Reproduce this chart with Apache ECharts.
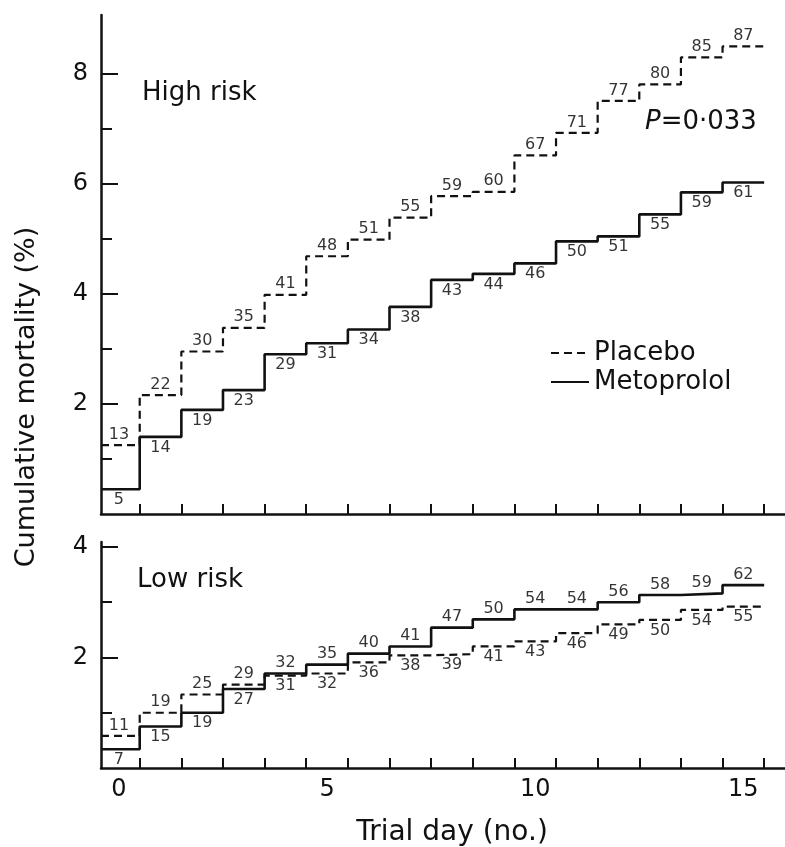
<!DOCTYPE html>
<html>
<head>
<meta charset="utf-8">
<script src="https://cdn.jsdelivr.net/npm/echarts@6/dist/echarts.min.js"></script>
<style>html,body{margin:0;padding:0;background:#fff;}#c{width:785px;height:847px;}</style>
</head>
<body>
<div id="c"></div>
<script>
// ---- data ----
const days = [0,1,2,3,4,5,6,7,8,9,10,11,12,13,14,15];
const highPlaceboPct = [1.25,2.16,2.95,3.38,3.98,4.68,4.98,5.38,5.77,5.85,6.51,6.92,7.50,7.80,8.29,8.49];
const highPlaceboN   = [13,22,30,35,41,48,51,55,59,60,67,71,77,80,85,87];
const highMetoPct    = [0.45,1.40,1.89,2.25,2.90,3.10,3.35,3.76,4.25,4.36,4.55,4.95,5.04,5.44,5.84,6.02];
const highMetoN      = [5,14,19,23,29,31,34,38,43,44,46,50,51,55,59,61];
const lowPlaceboPct  = [0.58,1.00,1.33,1.51,1.67,1.71,1.91,2.04,2.06,2.20,2.29,2.44,2.60,2.68,2.86,2.92];
const lowPlaceboN    = [11,19,25,29,31,32,36,38,39,41,43,46,49,50,54,55];
const lowMetoPct     = [0.34,0.75,1.00,1.43,1.71,1.87,2.07,2.20,2.54,2.69,2.87,2.87,3.00,3.13,3.16,3.31];
const lowMetoN       = [7,15,19,27,32,35,40,41,47,50,54,54,56,58,59,62];
const xTickLabels = [0,5,10,15];
const xTickMarks = [0.5,1.5,2.5,3.5,4.5,5.5,6.5,7.5,8.5,9.5,10.5,11.5,12.5,13.5,14.5,15.5];
const highYLabels = [2,4,6,8];
const highYMinor = [1,3,5,7];
const lowYLabels = [2,4];
const lowYMinor = [1,3];

const X_MIN = -0.43, X_MAX = 16;
const FONT = 'DejaVu Sans';
const INK = '#111';

function steps(p) {
  const pts = [[X_MIN, p[0]]];
  for (let i = 1; i < p.length; i++) pts.push([days[i] - 0.5, p[i]]);
  pts.push([days[p.length - 1] + 0.5, p[p.length - 1]]);
  return pts;
}
function labelData(p, n, other) {
  return days.map((d, i) => ({
    value: [d, p[i], n[i]],
    label: { position: p[i] >= other[i] ? 'top' : 'bottom' }
  }));
}

function xAxis(grid, showLabels) {
  return {
    type: 'value', gridIndex: grid, min: X_MIN, max: X_MAX,
    axisLine: { show: true, onZero: false, lineStyle: { color: INK, width: 2.5 } },
    axisTick: { show: true, inside: true, length: 10, customValues: xTickMarks, lineStyle: { color: INK, width: 2 } },
    axisLabel: { show: showLabels, customValues: xTickLabels, fontSize: 24, color: INK, fontFamily: FONT, margin: 10 },
    splitLine: { show: false }
  };
}
function yAxis(grid, max, labels) {
  return {
    type: 'value', gridIndex: grid, min: 0, max: max, position: 'left',
    axisLine: { show: true, onZero: false, lineStyle: { color: INK, width: 2.5 } },
    axisTick: { show: true, inside: true, length: 17, customValues: labels, lineStyle: { color: INK, width: 2 } },
    axisLabel: { show: true, customValues: labels, fontSize: 24, color: INK, fontFamily: FONT, margin: 13 },
    splitLine: { show: false }
  };
}
function yAux(grid, max, ticks) {
  return {
    type: 'value', gridIndex: grid, min: 0, max: max, position: 'left', offset: 0,
    axisLine: { show: false, onZero: false },
    axisTick: { show: true, inside: true, length: 11, customValues: ticks, lineStyle: { color: INK, width: 2 } },
    axisLabel: { show: false },
    splitLine: { show: false }
  };
}
function stepLine(name, xi, yi, pts, dashed) {
  return {
    type: 'line', name: name, xAxisIndex: xi, yAxisIndex: yi, data: pts, step: 'end',
    symbol: 'none', silent: true,
    lineStyle: { color: INK, width: dashed ? 2.2 : 2.6, type: dashed ? [8, 5] : 'solid' },
    itemStyle: { color: 'rgba(0,0,0,0)', borderWidth: 0, opacity: 0 }
  };
}
function labels(name, xi, yi, data) {
  return {
    type: 'scatter', name: name, xAxisIndex: xi, yAxisIndex: yi, data: data,
    symbolSize: 1, itemStyle: { color: 'rgba(0,0,0,0)' }, silent: true,
    label: { show: true, distance: 2, fontSize: 16, color: '#000', fontFamily: FONT,
      formatter: p => String(p.value[2]) }
  };
}

const chart = echarts.init(document.getElementById('c'), null, { renderer: 'canvas' });
chart.setOption({
  backgroundColor: '#fff',
  animation: false,
  grid: [
    { left: 101, top: 15, width: 684, height: 499 },
    { left: 101, top: 542, width: 684, height: 226 }
  ],
  xAxis: [xAxis(0, false), xAxis(1, true)],
  yAxis: [yAxis(0, 9.06, highYLabels), yAxis(1, 4.09, lowYLabels), yAux(0, 9.06, highYMinor), yAux(1, 4.09, lowYMinor)],
  legend: {
    data: ['Placebo', 'Metoprolol'], orient: 'vertical', left: 545, top: 335,
    itemWidth: 38, itemHeight: 14, itemGap: 3, selectedMode: false,
    itemStyle: { color: 'rgba(0,0,0,0)', borderWidth: 0, opacity: 0 },
    textStyle: { fontSize: 26, lineHeight: 26, color: INK, fontFamily: FONT }
  },
  series: [
    stepLine('Placebo', 0, 0, steps(highPlaceboPct), true),
    stepLine('Metoprolol', 0, 0, steps(highMetoPct), false),
    stepLine('Placebo', 1, 1, steps(lowPlaceboPct), true),
    stepLine('Metoprolol', 1, 1, steps(lowMetoPct), false),
    labels('hpN', 0, 0, labelData(highPlaceboPct, highPlaceboN, highMetoPct)),
    labels('hmN', 0, 0, labelData(highMetoPct, highMetoN, highPlaceboPct)),
    labels('lpN', 1, 1, labelData(lowPlaceboPct, lowPlaceboN, lowMetoPct)),
    labels('lmN', 1, 1, labelData(lowMetoPct, lowMetoN, lowPlaceboPct))
  ],
  graphic: [
    { type: 'text', x: 27, y: 397, rotation: Math.PI / 2,
      style: { text: 'Cumulative mortality (%)', fontSize: 27, fontFamily: FONT, fill: INK, align: 'center', verticalAlign: 'middle' } },
    { type: 'text', x: 452, y: 833,
      style: { text: 'Trial day (no.)', fontSize: 28, fontFamily: FONT, fill: INK, align: 'center', verticalAlign: 'middle' } },
    { type: 'text', x: 142, y: 93,
      style: { text: 'High risk', fontSize: 26, fontFamily: FONT, fill: INK, align: 'left', verticalAlign: 'middle' } },
    { type: 'text', x: 137, y: 580,
      style: { text: 'Low risk', fontSize: 26, fontFamily: FONT, fill: INK, align: 'left', verticalAlign: 'middle' } },
    { type: 'text', x: 645, y: 122,
      style: { text: '{i|P}=0·033', fontSize: 26, fontFamily: FONT, fill: INK, align: 'left', verticalAlign: 'middle',
        rich: { i: { fontStyle: 'italic', fontSize: 26, fontFamily: FONT, fill: INK } } } }
  ]
});
</script>
</body>
</html>
